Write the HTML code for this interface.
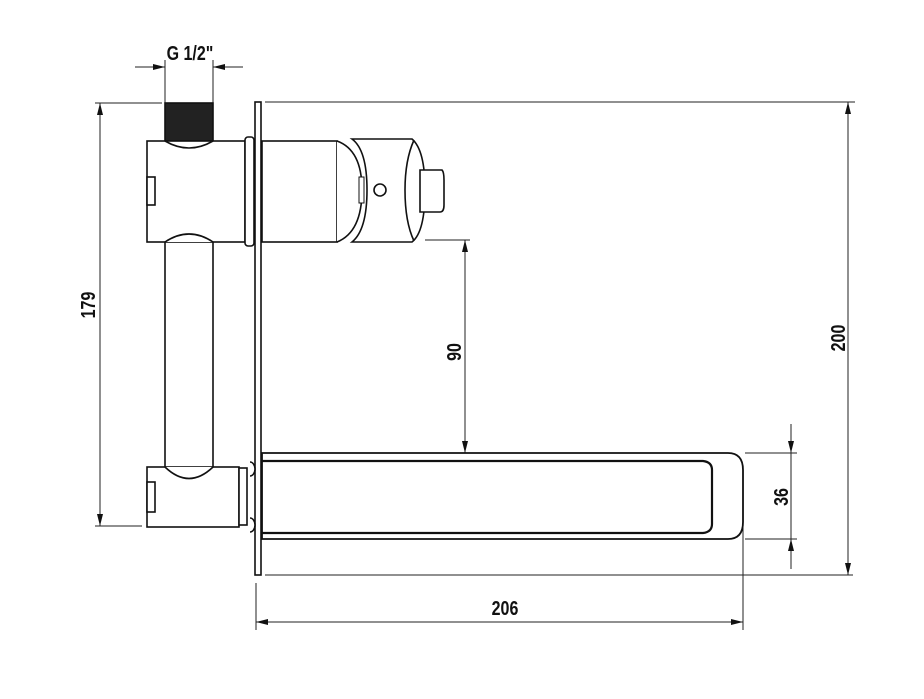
<!DOCTYPE html>
<html><head><meta charset="utf-8"><style>
html,body{margin:0;padding:0;background:#fff;}
svg{display:block;}
text{font-family:"Liberation Sans",sans-serif;font-size:20px;fill:#111;}
</style></head><body>
<svg width="924" height="699" viewBox="0 0 924 699" xmlns="http://www.w3.org/2000/svg">
<defs>
<marker id="a" viewBox="0 0 12 6" refX="12" refY="3" markerWidth="12" markerHeight="6" orient="auto-start-reverse" markerUnits="userSpaceOnUse"><path d="M0,0 L12,3 L0,6 z" fill="#111"/></marker>
</defs>
<g stroke="#222" stroke-width="1" fill="none">
<line x1="165" y1="60" x2="165" y2="103"/>
<line x1="213" y1="60" x2="213" y2="103"/>
<line x1="135" y1="67" x2="165" y2="67" marker-end="url(#a)"/>
<line x1="243" y1="67" x2="213" y2="67" marker-end="url(#a)"/>
<line x1="95" y1="103" x2="162" y2="103"/>
<line x1="265" y1="102" x2="855" y2="102"/>
<line x1="95" y1="526" x2="142" y2="526"/>
<line x1="265" y1="575" x2="853" y2="575"/>
<line x1="100" y1="103" x2="100" y2="526" marker-start="url(#a)" marker-end="url(#a)"/>
<line x1="848" y1="102" x2="848" y2="575" marker-start="url(#a)" marker-end="url(#a)"/>
<line x1="425" y1="240" x2="470" y2="240"/>
<line x1="465" y1="240" x2="465" y2="453" marker-start="url(#a)" marker-end="url(#a)"/>
<line x1="745" y1="453" x2="797" y2="453"/>
<line x1="745" y1="539" x2="797" y2="539"/>
<line x1="791" y1="424" x2="791" y2="453" marker-end="url(#a)"/>
<line x1="791" y1="569" x2="791" y2="539" marker-end="url(#a)"/>
<line x1="791" y1="453" x2="791" y2="539"/>
<line x1="256" y1="583" x2="256" y2="630"/>
<line x1="743" y1="470" x2="743" y2="630"/>
<line x1="256" y1="622" x2="743" y2="622" marker-start="url(#a)" marker-end="url(#a)"/>
</g>
<g stroke="#111" stroke-width="1.6" fill="#fff">
<rect x="165" y="103" width="48" height="38" fill="#222" stroke="#111"/>
<rect x="165" y="230" width="48" height="245"/>
<rect x="147" y="141" width="98" height="101"/>
<path d="M165,141 Q189,155 213,141" fill="none"/>
<path d="M165,242 Q189,226 213,242" fill="#fff"/>
<rect x="147" y="177" width="8" height="28"/>
<rect x="245" y="137" width="9" height="109" rx="3"/>
<rect x="255" y="102" width="6" height="473"/>
<rect x="262" y="141" width="75" height="101"/>
<path d="M337,141 Q362,150 362,190 Q362,232 337,242" />
<path d="M352,139 L412,139 Q425,150 425,190 Q425,232 412,242 L352,242 Q367,230 367,190 Q367,150 352,139 z"/>
<path d="M414,140 Q405,160 405,190 Q405,222 414,241" fill="none"/>
<path d="M420,170 L442,170 Q444,172 444,180 L444,205 Q444,212 440,212 L420,212 z"/>
<circle cx="380" cy="190" r="6"/>
<rect x="359" y="177" width="5" height="26" stroke-width="1"/>
<rect x="147" y="467" width="92" height="60"/>
<path d="M165,467 Q189,490 213,467" fill="#fff"/>
<rect x="147" y="482" width="8" height="30"/>
<rect x="239" y="468" width="8" height="57"/>
<path d="M250,462 A5,7 0 0 1 250,476" />
<path d="M250,518 A5,7 0 0 1 250,532" />
<path d="M262,453 L728,453 Q743,453 743,470 L743,522 Q743,539 728,539 L262,539 z" stroke-width="1.8"/>
<path d="M262,461 L703,461 Q712,462 712,470 L712,524 Q712,532 703,533 L262,533" fill="none" stroke-width="2.2"/>
</g>
<g font-weight="bold">
<text transform="translate(190,60) scale(0.8,1)" text-anchor="middle">G 1/2"</text>
<text transform="translate(505,615) scale(0.8,1)" text-anchor="middle">206</text>
<text transform="translate(95,305) rotate(-90) scale(0.8,1)" text-anchor="middle">179</text>
<text transform="translate(845,338) rotate(-90) scale(0.8,1)" text-anchor="middle">200</text>
<text transform="translate(461,352) rotate(-90) scale(0.8,1)" text-anchor="middle">90</text>
<text transform="translate(788,497) rotate(-90) scale(0.8,1)" text-anchor="middle">36</text>
</g>
</svg>
</body></html>
